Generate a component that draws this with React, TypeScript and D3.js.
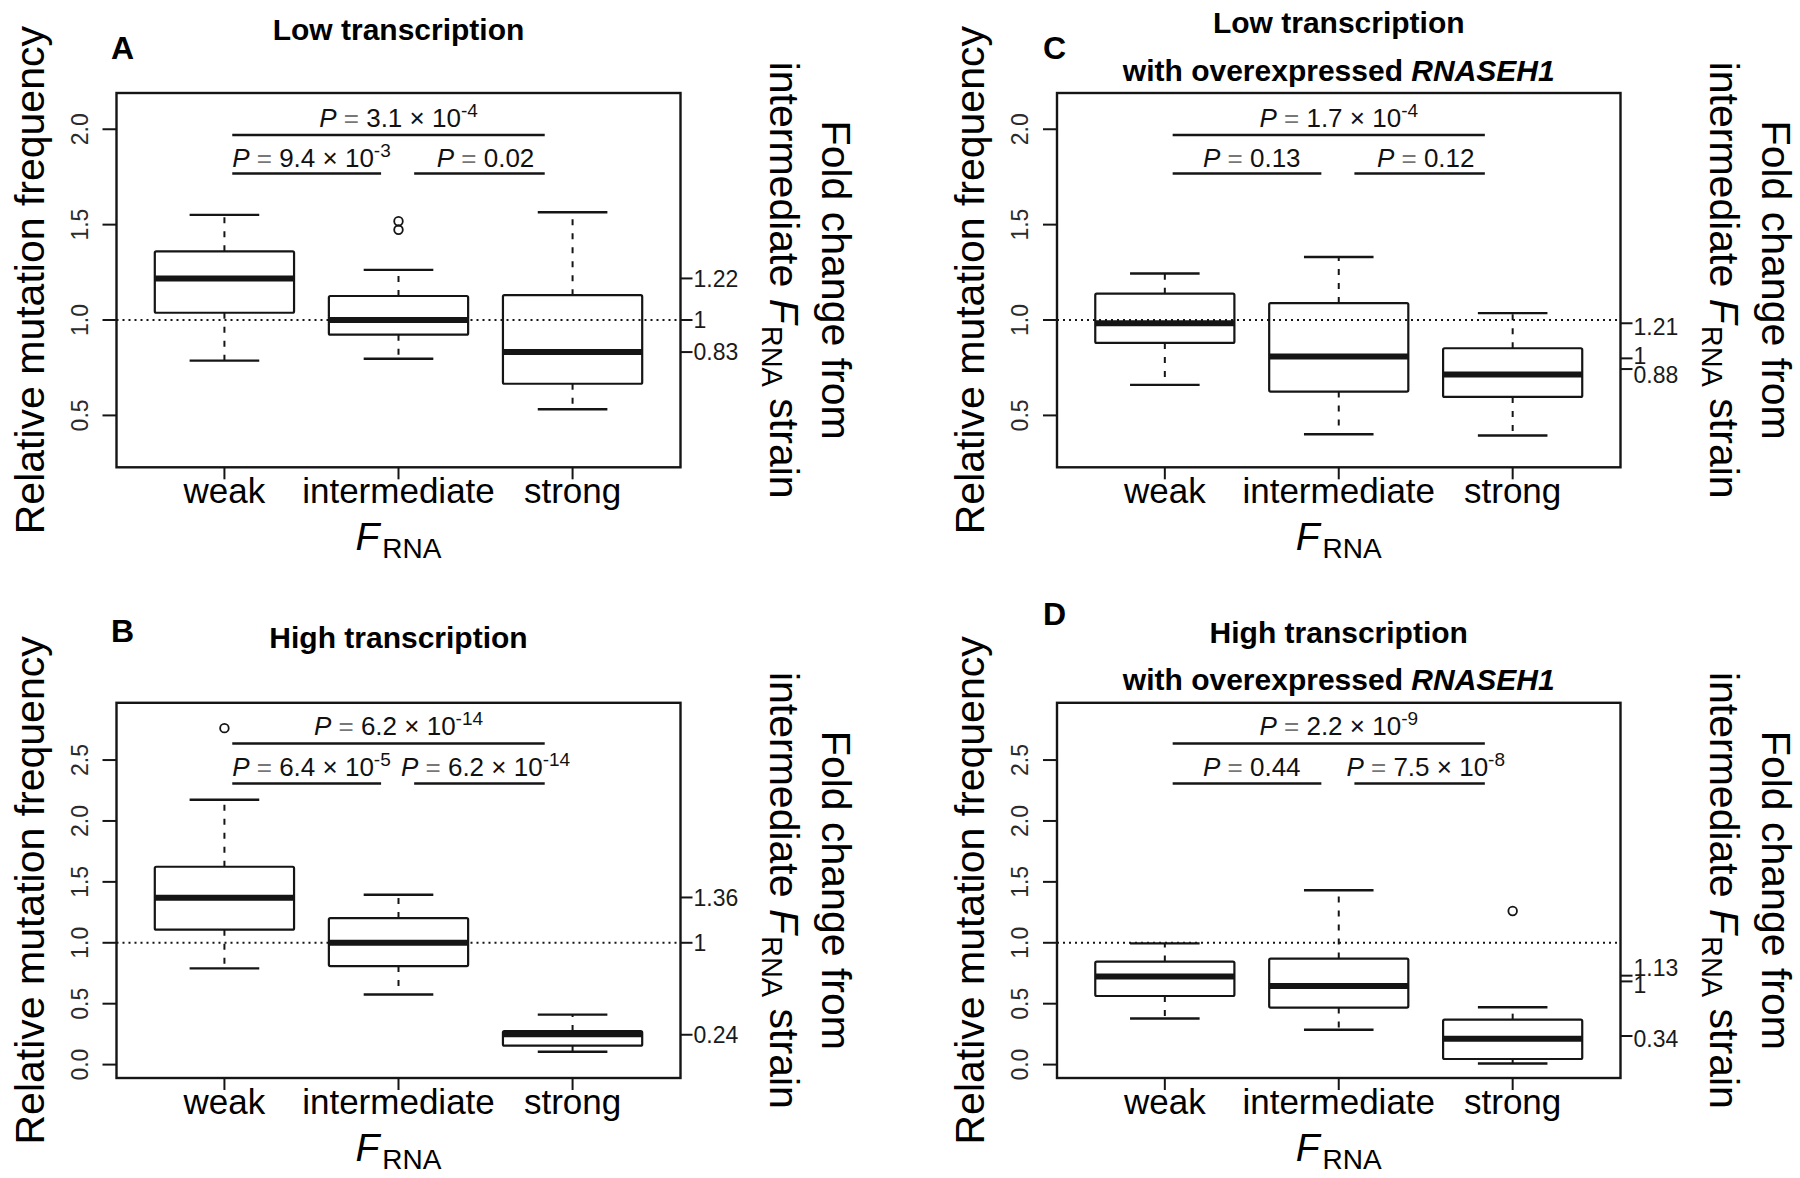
import React from "react";
import * as d3 from "d3";

const categories = ["weak", "intermediate", "strong"];

// five-number summaries per category: [lower whisker, Q1, median, Q3, upper whisker]
const statsA = [
  [0.787, 1.038, 1.218, 1.36, 1.551],
  [0.797, 0.923, 1.0, 1.126, 1.263],
  [0.532, 0.666, 0.832, 1.13, 1.565],
];
const outliersA = [[], [1.473, 1.518], []];

const statsB = [
  [0.79, 1.108, 1.369, 1.624, 2.174],
  [0.575, 0.809, 1.0, 1.203, 1.394],
  [0.105, 0.155, 0.25, 0.275, 0.41],
];
const outliersB = [[2.762], [], []];

const statsC = [
  [0.66, 0.88, 0.983, 1.138, 1.244],
  [0.401, 0.625, 0.809, 1.089, 1.33],
  [0.395, 0.597, 0.715, 0.852, 1.036],
];
const outliersC = [[], [], []];

const statsD = [
  [0.378, 0.563, 0.723, 0.846, 0.995],
  [0.286, 0.468, 0.646, 0.87, 1.431],
  [0.009, 0.046, 0.212, 0.369, 0.471],
];
const outliersD = [[], [], [1.261]];

// right axis: fold change from intermediate strain
const rightTickAtA = [1.218, 1.0, 0.832];
const rightLabelAtA = [1.218, 1.0, 0.832];
const rightLabelsA = ["1.22", "1", "0.83"];
const rightTickAtB = [1.372, 1.0, 0.245];
const rightLabelAtB = [1.372, 1.0, 0.245];
const rightLabelsB = ["1.36", "1", "0.24"];
const rightTickAtC = [0.983, 0.799, 0.743];
const rightLabelAtC = [0.965, 0.814, 0.712];
const rightLabelsC = ["1.21", "1", "0.88"];
const rightTickAtD = [0.73, 0.683, 0.235];
const rightLabelAtD = [0.795, 0.656, 0.212];
const rightLabelsD = ["1.13", "1", "0.34"];

// P values [mantissa, exponent]: weak–strong, weak–intermediate, intermediate–strong
const pValuesA = [["3.1", "-4"], ["9.4", "-3"], ["0.02", ""]];
const pValuesB = [["6.2", "-14"], ["6.4", "-5"], ["6.2", "-14"]];
const pValuesC = [["1.7", "-4"], ["0.13", ""], ["0.12", ""]];
const pValuesD = [["2.2", "-9"], ["0.44", ""], ["7.5", "-8"]];

const comparisonSpans = [[1.045, 2.84], [1.045, 1.9], [2.09, 2.84]];
const comparisonLabelX = [2, 1.5, 2.5];
const sigBarTop = [1.97, 1.768, 1.768];
const sigTextTop = [2.01, 1.8, 1.8];
const sigBarBottom = [2.636, 2.307, 2.307];
const sigTextBottom = [2.707, 2.368, 2.368];

const yTicksTop = [0.5, 1, 1.5, 2];
const yTicksBottom = [0, 0.5, 1, 1.5, 2, 2.5];
const yTickLabelsTop = ["0.5", "1.0", "1.5", "2.0"];
const yTickLabelsBottom = ["0.0", "0.5", "1.0", "1.5", "2.0", "2.5"];
const yDomainTop = [0.228, 2.19];
const yDomainBottom = [-0.11, 2.97];
const xDomain = [0.38, 3.62];
const referenceValue = 1;

const FONT = "'Liberation Sans', Arial, Helvetica, sans-serif";
const INK = "#151515";

type Seg = { t: string; i?: boolean };

function Panel(props: any) {
  const {
    L, R, T, B, letter, letterX, letterY, titleLines, titleY,
    stats, outliers, yDomain, yTicks, yTickLabels,
    rightTickAt, rightLabelAt, rightLabels, pValues, sigBarY, sigTextY,
  } = props;
  const x = d3.scaleLinear().domain(xDomain).range([L, R]);
  const y = d3.scaleLinear().domain(yDomain).range([B, T]);
  const cx = (L + R) / 2;
  const cy = (T + B) / 2;
  const halfBox = 0.4;
  const halfCap = 0.2;

  return (
    <g fontFamily={FONT}>
      <text x={letterX} y={letterY} fontSize={32} fontWeight="bold" fill="#000">
        {letter}
      </text>
      {titleLines.map((line: Seg[], k: number) => (
        <text key={k} x={cx} y={titleY[k]} textAnchor="middle" fontSize={30} fontWeight="bold" fill="#000" style={{ whiteSpace: "pre" }}>
          {line.map((s, j) => (
            <tspan key={j} fontStyle={s.i ? "italic" : "normal"}>{s.t}</tspan>
          ))}
        </text>
      ))}

      {/* reference line */}
      <line x1={L} x2={R} y1={y(referenceValue)} y2={y(referenceValue)} stroke={INK} strokeWidth={2} strokeDasharray="2 4" />

      {/* boxes */}
      {stats.map((s: number[], i: number) => {
        const c = i + 1;
        const [lo, q1, med, q3, hi] = s;
        return (
          <g key={i} stroke={INK} fill="none">
            <line x1={x(c)} x2={x(c)} y1={y(q3)} y2={y(hi)} strokeWidth={2} strokeDasharray="6 8" />
            <line x1={x(c)} x2={x(c)} y1={y(q1)} y2={y(lo)} strokeWidth={2} strokeDasharray="6 8" />
            <line x1={x(c - halfCap)} x2={x(c + halfCap)} y1={y(hi)} y2={y(hi)} strokeWidth={2.4} />
            <line x1={x(c - halfCap)} x2={x(c + halfCap)} y1={y(lo)} y2={y(lo)} strokeWidth={2.4} />
            <rect x={x(c - halfBox)} y={y(q3)} width={x(c + halfBox) - x(c - halfBox)} height={y(q1) - y(q3)} strokeWidth={2.2} rx={1.5} />
            <line x1={x(c - halfBox)} x2={x(c + halfBox)} y1={y(med)} y2={y(med)} strokeWidth={6} />
            {outliers[i].map((o: number, k: number) => (
              <circle key={k} cx={x(c)} cy={y(o)} r={4.3} strokeWidth={1.8} />
            ))}
          </g>
        );
      })}

      {/* comparisons */}
      {comparisonSpans.map((sp: number[], k: number) => (
        <line key={"b" + k} x1={x(sp[0])} x2={x(sp[1])} y1={y(sigBarY[k])} y2={y(sigBarY[k])} stroke={INK} strokeWidth={2.4} />
      ))}
      {pValues.map((p: string[], k: number) => (
        <text key={"p" + k} x={x(comparisonLabelX[k])} y={y(sigTextY[k])} textAnchor="middle" fontSize={26} fill="#111" style={{ whiteSpace: "pre" }}>
          <tspan fontStyle="italic">P</tspan>
          <tspan fill="#777"> = </tspan>
          <tspan>{p[1] ? p[0] + " × 10" : p[0]}</tspan>
          {p[1] ? <tspan fontSize={19} dy={-10}>{p[1]}</tspan> : null}
        </text>
      ))}

      {/* frame */}
      <rect x={L} y={T} width={R - L} height={B - T} fill="none" stroke={INK} strokeWidth={2.4} />

      {/* left axis */}
      {yTicks.map((v: number, k: number) => (
        <g key={"y" + k}>
          <line x1={L - 14} x2={L} y1={y(v)} y2={y(v)} stroke={INK} strokeWidth={2} />
          <text transform={`translate(${L - 29},${y(v)}) rotate(-90)`} textAnchor="middle" fontSize={23} fill="#2a2a2a">
            {yTickLabels[k]}
          </text>
        </g>
      ))}
      <text transform={`translate(${L - 73},${cy}) rotate(-90)`} textAnchor="middle" fontSize={41} fill="#000">
        Relative mutation frequency
      </text>

      {/* bottom axis */}
      {categories.map((c, i) => (
        <g key={"x" + i}>
          <line x1={x(i + 1)} x2={x(i + 1)} y1={B} y2={B + 12} stroke={INK} strokeWidth={2} />
          <text x={x(i + 1)} y={B + 36} textAnchor="middle" fontSize={35} fill="#000">{c}</text>
        </g>
      ))}
      <text x={cx} y={B + 83} textAnchor="middle" fill="#000">
        <tspan fontSize={39} fontStyle="italic">F</tspan>
        <tspan fontSize={28} dy={8} dx={3}>RNA</tspan>
      </text>

      {/* right axis */}
      {rightTickAt.map((v: number, k: number) => (
        <line key={"rt" + k} x1={R} x2={R + 12} y1={y(v)} y2={y(v)} stroke={INK} strokeWidth={2} />
      ))}
      {rightLabels.map((lab: string, k: number) => (
        <text key={"rl" + k} x={R + 13} y={y(rightLabelAt[k]) + 8.3} fontSize={23} fill="#1a1a1a">{lab}</text>
      ))}
      <text transform={`translate(${R + 141},${cy}) rotate(90)`} textAnchor="middle" fontSize={41} fill="#000">
        Fold change from
      </text>
      <text transform={`translate(${R + 89},${cy}) rotate(90)`} textAnchor="middle" fontSize={41} fill="#000" style={{ whiteSpace: "pre" }}>
        <tspan>intermediate </tspan>
        <tspan fontStyle="italic">F</tspan>
        <tspan fontSize={29} dy={8} dx={2}>RNA</tspan>
        <tspan dy={-8}> strain</tspan>
      </text>
    </g>
  );
}

export default function App() {
  const leftL = 116.5, leftR = 680.5;
  const rightL = 1057, rightR = 1620.5;
  const topT = 93, topB = 467.3;
  const botT = 702.8, botB = 1078;
  const titleLow: Seg[][] = [[{ t: "Low transcription" }]];
  const titleHigh: Seg[][] = [[{ t: "High transcription" }]];
  const titleLowOE: Seg[][] = [[{ t: "Low transcription" }], [{ t: "with overexpressed " }, { t: "RNASEH1", i: true }]];
  const titleHighOE: Seg[][] = [[{ t: "High transcription" }], [{ t: "with overexpressed " }, { t: "RNASEH1", i: true }]];
  return (
    <svg width={1800} height={1178} style={{ position: "absolute", left: 0, top: 0, background: "#fff" }}>
      <rect x={0} y={0} width={1800} height={1178} fill="#fff" />
      <Panel L={leftL} R={leftR} T={topT} B={topB} letter="A" letterX={111} letterY={59}
        titleLines={titleLow} titleY={[40]} stats={statsA} outliers={outliersA}
        yDomain={yDomainTop} yTicks={yTicksTop} yTickLabels={yTickLabelsTop}
        rightTickAt={rightTickAtA} rightLabelAt={rightLabelAtA} rightLabels={rightLabelsA}
        pValues={pValuesA} sigBarY={sigBarTop} sigTextY={sigTextTop} />
      <Panel L={leftL} R={leftR} T={botT} B={botB} letter="B" letterX={111} letterY={642}
        titleLines={titleHigh} titleY={[648]} stats={statsB} outliers={outliersB}
        yDomain={yDomainBottom} yTicks={yTicksBottom} yTickLabels={yTickLabelsBottom}
        rightTickAt={rightTickAtB} rightLabelAt={rightLabelAtB} rightLabels={rightLabelsB}
        pValues={pValuesB} sigBarY={sigBarBottom} sigTextY={sigTextBottom} />
      <Panel L={rightL} R={rightR} T={topT} B={topB} letter="C" letterX={1043} letterY={59}
        titleLines={titleLowOE} titleY={[33, 81]} stats={statsC} outliers={outliersC}
        yDomain={yDomainTop} yTicks={yTicksTop} yTickLabels={yTickLabelsTop}
        rightTickAt={rightTickAtC} rightLabelAt={rightLabelAtC} rightLabels={rightLabelsC}
        pValues={pValuesC} sigBarY={sigBarTop} sigTextY={sigTextTop} />
      <Panel L={rightL} R={rightR} T={botT} B={botB} letter="D" letterX={1043} letterY={625}
        titleLines={titleHighOE} titleY={[643, 690]} stats={statsD} outliers={outliersD}
        yDomain={yDomainBottom} yTicks={yTicksBottom} yTickLabels={yTickLabelsBottom}
        rightTickAt={rightTickAtD} rightLabelAt={rightLabelAtD} rightLabels={rightLabelsD}
        pValues={pValuesD} sigBarY={sigBarBottom} sigTextY={sigTextBottom} />
    </svg>
  );
}
